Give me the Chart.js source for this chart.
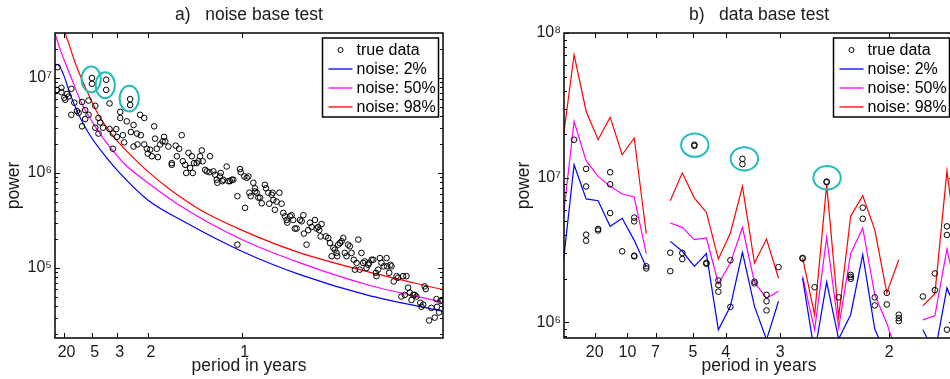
<!DOCTYPE html>
<html>
<head>
<meta charset="utf-8">
<script src="https://cdn.jsdelivr.net/npm/chart.js@4"></script>
<style>
  html, body { margin: 0; padding: 0; background: #fff; overflow: hidden; }
  #wrap { position: relative; width: 950px; height: 379px; overflow: hidden; }
  #left { position: absolute; left: 0; top: 0; }
  #right { position: absolute; left: 475px; top: 0; }
</style>
</head>
<body>
<div id="wrap">
  <canvas id="left" width="475" height="379"></canvas>
  <canvas id="right" width="512" height="379"></canvas>
</div>
<script>
// ---- a) noise base test : x = frequency (1/years), y = power ----
var noiseTrueFreq = [
  0.018,0.015,0.038,0.038,0.054,0.059,0.068,0.077,0.091,0.091,
  0.107,0.121,0.130,0.148,0.148,0.165,0.165,0.183,0.183,0.201,
  0.201,0.219,0.219,0.236,0.236,0.245,0.260,0.277,0.277,0.295,
  0.295,0.313,0.313,0.331,0.334,0.352,0.352,0.366,0.373,0.387,
  0.405,0.405,0.409,0.423,0.423,0.441,0.444,0.458,0.462,0.480,
  0.480,0.494,0.499,0.512,0.521,0.533,0.538,0.547,0.553,0.565,
  0.578,0.586,0.592,0.609,0.627,0.627,0.648,0.654,0.666,0.680,
  0.686,0.698,0.704,0.716,0.725,0.734,0.739,0.746,0.760,0.769,
  0.778,0.787,0.792,0.805,0.814,0.828,0.831,0.849,0.858,0.867,
  0.870,0.884,0.888,0.897,0.902,0.920,0.929,0.938,0.947,0.955,
  0.977,0.991,0.995,1.014,1.018,1.027,1.036,1.041,1.048,1.062,
  1.071,1.071,1.080,1.089,1.098,1.107,1.124,1.130,1.142,1.147,
  1.160,1.165,1.169,1.177,1.186,1.201,1.213,1.222,1.231,1.240,
  1.243,1.258,1.266,1.275,1.284,1.293,1.311,1.320,1.329,1.332,
  1.346,1.355,1.364,1.373,1.391,1.399,1.408,1.414,1.421,1.426,
  1.449,1.462,1.471,1.480,1.489,1.497,1.506,1.510,1.515,1.524,
  1.533,1.542,1.550,1.559,1.568,1.577,1.586,1.598,1.604,1.613,
  1.622,1.630,1.639,1.648,1.657,1.666,1.675,1.680,1.693,1.702,
  1.716,1.719,1.728,1.737,1.746,1.758,1.773,1.776,1.787,1.794,
  1.799,1.811,1.826,1.834,1.852,1.861,1.870,1.879,1.888,1.897,
  1.906,1.915,1.923,1.932,1.953,1.959,1.968,1.976,1.982,2.000,
  2.012,2.030,2.039,2.042,2.053,2.060,2.071,0.977
];
var noiseTruePower = [
  1.3e7,7.5e6,7.9e6,7.1e6,6.2e6,5.9e6,6.8e6,6.4e6,7.7e6,4.1e6,
  5.5e6,4.5e6,4.3e6,3.1e6,5.6e6,3.7e6,4.6e6,5.8e6,4.1e6,1.0e7,
  8.7e6,5.1e6,3.0e6,3.8e6,2.6e6,3.4e6,3.0e6,9.6e6,7.5e6,5.4e6,
  2.9e6,2.6e6,1.8e6,2.9e6,2.4e6,4.4e6,3.8e6,2.5e6,2.1e6,3.5e6,
  6.0e6,5.2e6,2.7e6,3.2e6,1.9e6,2.6e6,2.0e6,4.1e6,2.5e6,3.8e6,
  2.0e6,1.8e6,1.6e6,1.76e6,1.5e6,3.1e6,2.3e6,1.8e6,1.47e6,2.0e6,
  2.15e6,2.4e6,2.15e6,1.9e6,1.27e6,1.22e6,1.94e6,1.5e6,1.8e6,2.5e6,
  1.33e6,1.22e6,1.0e6,1.63e6,1.13e6,1.5e6,1.0e6,1.27e6,1.27e6,1.33e6,
  1.5e6,1.73e6,1.33e6,1.08e6,1.04e6,1.02e6,1.5e6,1.04e6,9.6e5,8.5e5,
  7.9e5,9.2e5,1.0e6,8.2e5,8.5e5,1.17e6,8.2e5,8.2e5,8.5e5,8.5e5,
  5.7e5,1.10e6,1.02e6,9.2e5,4.3e5,8.9e5,9.2e5,6.2e5,5.7e5,7.9e5,
  6.9e5,6.4e5,6.2e5,5.5e5,5.5e5,4.8e5,7.5e5,6.9e5,6.2e5,4.75e5,
  5.9e5,6.2e5,5.2e5,4.1e5,5.0e5,6.2e5,4.75e5,3.8e5,3.5e5,3.2e5,
  3.0e5,3.5e5,3.6e5,3.2e5,2.6e5,2.6e5,3.2e5,3.1e5,3.6e5,2.3e5,
  1.76e5,2.5e5,3.0e5,2.7e5,3.2e5,2.6e5,2.7e5,2.5e5,2.15e5,2.9e5,
  2.15e5,2.07e5,1.83e5,1.33e5,1.63e5,1.56e5,1.44e5,1.33e5,1.76e5,1.83e5,
  1.91e5,2.07e5,1.44e5,1.33e5,1.76e5,1.69e5,1.44e5,1.22e5,9.6e4,1.13e5,
  1.99e5,9.6e4,1.44e5,1.13e5,1.17e5,1.0e5,1.08e5,1.13e5,1.22e5,1.22e5,
  8.9e4,8.2e4,9.6e4,1.27e5,1.13e5,1.04e5,1.27e5,1.04e5,8.9e4,1.08e5,
  1.04e5,7.2e4,8.2e4,7.9e4,5.0e4,8.2e4,5.2e4,8.2e4,6.2e4,5.5e4,
  4.6e4,5.2e4,5.2e4,5.0e4,4.3e4,3.9e4,4.1e4,6.4e4,6.0e4,2.8e4,
  3.8e4,3.0e4,4.7e4,3.9e4,3.4e4,4.5e4,4.5e4,1.76e5
];

var fit2Freq  = [0.004,0.024,0.050,0.077,0.103,0.139,0.183,0.245,0.334,0.499,0.689,1.000,1.311,1.666,2.074];
var fit2Power = [1.40e7,1.36e7,1.08e7,7.5e6,5.5e6,3.8e6,2.64e6,1.76e6,1.08e6,5.2e5,3.1e5,1.50e5,8.5e4,5.2e4,3.5e4];
var fit50Freq  = [0.006,0.032,0.059,0.095,0.130,0.165,0.201,0.254,0.308,0.379,0.499,0.689,1.000,1.311,1.666,2.074];
var fit50Power = [2.86e7,1.99e7,1.44e7,9.6e6,6.4e6,4.6e6,3.5e6,2.43e6,1.76e6,1.22e6,7.9e5,4.3e5,1.99e5,1.13e5,6.7e4,4.35e4];
var fit98Freq  = [0.045,0.059,0.077,0.112,0.148,0.183,0.236,0.308,0.396,0.499,0.609,0.778,1.000,1.311,1.666,2.074];
var fit98Power = [4.8e7,2.98e7,2.33e7,1.44e7,9.6e6,6.7e6,4.1e6,2.54e6,1.63e6,1.04e6,6.9e5,4.1e5,2.5e5,1.44e5,9.2e4,5.9e4];

var noiseMarkFreq  = [0.197, 0.272, 0.400];
var noiseMarkPower = [9.7e6, 8.4e6, 6.08e6];

var noiseXTicks  = [0.05, 0.2, 1/3, 0.5, 1];
var noiseXLabels = ['20', '5', '3', '2', '1'];
var noiseYTicks  = [1e5, 1e6, 1e7];
var noiseYLabels = ['10\u2075', '10\u2076', '10\u2077'];

// ---- b) data base test : harmonics of the record length ----
var harmonicFreq = [
  0, 0.0184, 0.0368, 0.0551, 0.0735, 0.0919, 0.1103, 0.1287, 0.1470, 0.1654,
  0.1838, 0.2022, 0.2206, 0.2389, 0.2573, 0.2757, 0.2941, 0.3125, 0.3308, 0.3492,
  0.3676, 0.3860, 0.4044, 0.4227, 0.4411, 0.4595, 0.4779, 0.4963, 0.5146, 0.5330,
  0.5514, 0.5698, 0.5882, 0.6065
];
var data98 = [1.63e7,7.08e7,2.88e7,1.83e7,2.62e7,1.44e7,1.88e7,4.10e6,null,6.93e6,
  1.08e7,7.23e6,5.75e6,2.74e6,4.15e6,8.71e6,2.57e6,3.77e6,2.02e6,null,
  2.79e6,1.13e6,8.95e6,1.09e6,5.41e6,7.52e6,4.38e6,1.60e6,2.71e6,null,
  1.30e6,1.58e6,1.11e7,2.57e6];
var data50 = [4.52e6,2.45e7,1.31e7,1.02e7,8.71e6,7.71e6,7.35e6,2.99e6,null,4.86e6,
  4.54e6,3.73e6,3.83e6,1.85e6,2.57e6,4.54e6,1.89e6,1.47e6,1.64e6,null,
  2.08e6,8.89e5,3.87e6,9.14e5,2.99e6,4.49e6,1.55e6,9.88e5,5.52e5,null,
  1.04e6,1.11e6,3.21e6,1.36e6];
var data2 = [2.16e6,1.23e7,7.13e6,6.93e6,4.61e6,5.24e6,3.69e6,2.41e6,null,3.63e6,
  3.10e6,2.44e6,2.99e6,8.89e5,1.29e6,3.05e6,1.29e6,7.59e5,1.40e6,null,
  2.02e6,6.14e5,1.90e6,7.67e5,1.13e6,2.94e6,9.00e5,5.82e5,4.97e5,null,
  8.89e5,6.14e5,1.73e6,1.10e6];

var dataTrueFreq = [
  0.0184,
  0.0368,0.0368,0.0368,0.0368,
  0.0551,0.0551,
  0.0735,0.0735,0.0735,
  0.0919,
  0.1103,0.1103,0.1103,0.1103,
  0.1287,0.1287,
  0.1654,0.1654,
  0.1838,0.1838,
  0.2022,0.2022,
  0.2206,0.2206,
  0.2389,0.2389,0.2389,
  0.2573,0.2573,
  0.2757,0.2757,
  0.2941,0.2941,
  0.3125,0.3125,0.3125,
  0.3308,
  0.3676,0.3676,
  0.3860,
  0.4044,0.4044,
  0.4227,
  0.4411,0.4411,0.4411,
  0.4595,0.4595,
  0.4779,0.4779,
  0.4963,0.4963,
  0.5146,0.5146,0.5146,
  0.5514,
  0.5698,0.5698,
  0.5882,0.5882,0.5882
];
var dataTruePower = [
  1.83e7,
  1.15e7,8.7e6,4.04e6,3.67e6,
  4.42e6,4.32e6,
  1.09e7,9.0e6,5.7e6,
  3.10e6,
  5.3e6,4.99e6,2.89e6,2.86e6,
  2.44e6,2.36e6,
  3.03e6,2.26e6,
  3.02e6,2.74e6,
  1.69e7,1.66e7,
  2.58e6,2.54e6,
  1.95e6,1.81e6,1.63e6,
  2.69e6,1.28e6,
  1.35e7,1.24e7,
  1.91e6,1.86e6,
  1.55e6,1.40e6,1.21e6,
  2.41e6,
  2.79e6,2.76e6,
  1.75e6,
  9.4e6,9.3e6,
  1.49e6,
  2.13e6,2.06e6,2.00e6,
  6.2e6,5.2e6,
  1.49e6,1.31e6,
  1.60e6,1.33e6,
  1.13e6,1.07e6,1.02e6,
  1.51e6,
  2.18e6,1.67e6,
  4.61e6,4.02e6,8.9e5
];

var dataMarkFreq  = [0.2029, 0.2786, 0.4050];
var dataMarkPower = [1.68e7, 1.35e7, 1.00e7];

var dataXTicks  = [0.05, 0.1, 1/7, 0.2, 0.25, 1/3, 0.5];
var dataXLabels = ['20', '10', '7', '5', '4', '3', '2'];
var dataYTicks  = [1e6, 1e7, 1e8];
var dataYLabels = ['10\u2076', '10\u2077', '10\u2078'];

var FONT = '"Liberation Sans", Arial, Helvetica, sans-serif';
Chart.defaults.font.family = FONT;
Chart.defaults.color = '#1a1a1a';

function pts(xs, ys) {
  return xs.map(function(v, i) { return { x: v, y: ys[i] }; });
}

// draws the matlab-like box, inward ticks, highlight ellipses, legend and title
var frame = {
  id: 'frame',
  afterDraw: function(chart, args, o) {
    var ctx = chart.ctx, a = chart.chartArea;
    var x = chart.scales.x, y = chart.scales.y;
    ctx.save();

    function seg(x1, y1, x2, y2) {
      ctx.beginPath(); ctx.moveTo(x1, y1); ctx.lineTo(x2, y2); ctx.stroke();
    }

    // cyan highlight rings
    ctx.strokeStyle = '#22bcbc';
    ctx.lineWidth = 2;
    for (var i = 0; i < o.markFreq.length; i++) {
      ctx.beginPath();
      ctx.ellipse(x.getPixelForValue(o.markFreq[i]), y.getPixelForValue(o.markPower[i]),
        o.rx, o.ry, 0, 0, Math.PI * 2);
      ctx.stroke();
    }

    // box
    ctx.strokeStyle = '#000';
    ctx.lineWidth = 1.5;
    ctx.strokeRect(a.left, a.top, a.right - a.left, a.bottom - a.top);

    // x ticks, bottom and top
    ctx.lineWidth = 1;
    x.ticks.forEach(function(t) {
      var px = Math.round(x.getPixelForValue(t.value)) + 0.5;
      seg(px, a.bottom, px, a.bottom - 5);
      seg(px, a.top, px, a.top + 5);
    });

    // y log ticks, left and right
    var lo = Math.floor(Math.log10(y.min)), hi = Math.ceil(Math.log10(y.max));
    for (var n = lo; n <= hi; n++) {
      for (var m = 1; m <= 9; m++) {
        var v = m * Math.pow(10, n);
        if (v < y.min || v > y.max) continue;
        var py = Math.round(y.getPixelForValue(v)) + 0.5;
        var len = m === 1 ? 5 : 3;
        seg(a.left, py, a.left + len, py);
        seg(a.right, py, a.right - len, py);
      }
    }

    // legend
    var bw = 116, bh = 79;
    var bx = a.right - 4.5 - bw, by = a.top + 5;
    ctx.fillStyle = '#fff';
    ctx.fillRect(bx, by, bw, bh);
    ctx.lineWidth = 1.5;
    ctx.strokeStyle = '#000';
    ctx.strokeRect(bx, by, bw, bh);
    ctx.font = '16px ' + FONT;
    ctx.textAlign = 'left';
    ctx.textBaseline = 'middle';
    chart.data.datasets.forEach(function(d, k) {
      var cy = by + 12 + k * 19;
      if (d.showLine === false) {
        ctx.lineWidth = 1;
        ctx.strokeStyle = '#000';
        ctx.beginPath();
        ctx.arc(bx + 18, cy, 2.5, 0, Math.PI * 2);
        ctx.stroke();
      } else {
        ctx.lineWidth = 1.3;
        ctx.strokeStyle = d.borderColor;
        seg(bx + 6, cy, bx + 30, cy);
      }
      ctx.fillStyle = '#000';
      ctx.fillText(d.label, bx + 34, cy + 1);
    });

    // title
    ctx.font = '17.5px ' + FONT;
    ctx.textAlign = 'center';
    ctx.fillStyle = '#1a1a1a';
    ctx.fillText(o.title, (a.left + a.right) / 2, 15);

    ctx.restore();
  }
};

function lineSet(label, xs, ys, color, smooth) {
  return {
    label: label,
    data: pts(xs, ys),
    borderColor: color,
    borderWidth: 1.2,
    pointRadius: 0,
    fill: false,
    tension: 0,
    cubicInterpolationMode: smooth ? 'monotone' : 'default',
    spanGaps: false
  };
}

function trueSet(xs, ys) {
  return {
    label: 'true data',
    data: pts(xs, ys),
    showLine: false,
    pointRadius: 2.8,
    pointBorderWidth: 1,
    pointBorderColor: '#000',
    pointBackgroundColor: 'rgba(0,0,0,0)',
    borderColor: '#000'
  };
}

function panel(id, o) {
  return new Chart(document.getElementById(id), {
    type: 'line',
    data: { datasets: o.datasets },
    options: {
      responsive: false,
      animation: false,
      events: [],
      layout: { padding: { left: 0, right: o.padRight, top: 33, bottom: 0 } },
      plugins: {
        legend: { display: false },
        tooltip: { enabled: false },
        frame: { title: o.title, markFreq: o.markFreq, markPower: o.markPower, rx: o.rx, ry: o.ry }
      },
      scales: {
        x: {
          type: 'linear', min: o.xMin, max: o.xMax, bounds: 'data',
          afterBuildTicks: function(s) { s.ticks = o.xTicks.map(function(v) { return { value: v }; }); },
          afterFit: function(s) { s.height = 41; },
          ticks: {
            autoSkip: false, maxRotation: 0, padding: 5, labelOffset: o.labelOffset,
            font: { size: 16 },
            callback: function(v, i) { return o.xLabels[i]; }
          },
          grid: { display: false, drawTicks: false },
          border: { display: false },
          title: { display: true, text: 'period in years', font: { size: 17.5 }, padding: { top: 0, bottom: 2 } }
        },
        y: {
          type: 'logarithmic', min: o.yMin, max: o.yMax, bounds: 'data',
          afterBuildTicks: function(s) { s.ticks = o.yTicks.map(function(v) { return { value: v }; }); },
          afterFit: function(s) { s.width = o.yWidth; },
          ticks: {
            autoSkip: false, padding: 3, font: { size: 16 },
            callback: function(v, i) { return o.yLabels[i]; }
          },
          grid: { display: false, drawTicks: false },
          border: { display: false },
          title: { display: true, text: 'power', font: { size: 17.5 }, padding: { top: o.yTitlePad, bottom: 0 } }
        }
      }
    },
    plugins: [frame]
  });
}

panel('left', {
  title: 'a)   noise base test',
  datasets: [
    trueSet(noiseTrueFreq, noiseTruePower),
    lineSet('noise: 2%', fit2Freq, fit2Power, '#0000ff', true),
    lineSet('noise: 50%', fit50Freq, fit50Power, '#ff00ff', true),
    lineSet('noise: 98%', fit98Freq, fit98Power, '#ff0000', true)
  ],
  xMin: 0.004, xMax: 2.074, xTicks: noiseXTicks, xLabels: noiseXLabels, labelOffset: 3,
  yMin: 1.83e4, yMax: 2.98e7, yTicks: noiseYTicks, yLabels: noiseYLabels,
  padRight: 32, yWidth: 55, yTitlePad: 3.5,
  markFreq: noiseMarkFreq, markPower: noiseMarkPower, rx: 9.6, ry: 12.9
});

panel('right', {
  title: 'b)   data base test',
  datasets: [
    trueSet(dataTrueFreq, dataTruePower),
    lineSet('noise: 2%', harmonicFreq, data2, '#0000ff', false),
    lineSet('noise: 50%', harmonicFreq, data50, '#ff00ff', false),
    lineSet('noise: 98%', harmonicFreq, data98, '#ff0000', false)
  ],
  xMin: 0.003, xMax: 0.599, xTicks: dataXTicks, xLabels: dataXLabels, labelOffset: 0,
  yMin: 7.8e5, yMax: 1e8, yTicks: dataYTicks, yLabels: dataYLabels,
  padRight: 33, yWidth: 89, yTitlePad: 38.5,
  markFreq: dataMarkFreq, markPower: dataMarkPower, rx: 13.7, ry: 11.7
});
</script>
</body>
</html>
